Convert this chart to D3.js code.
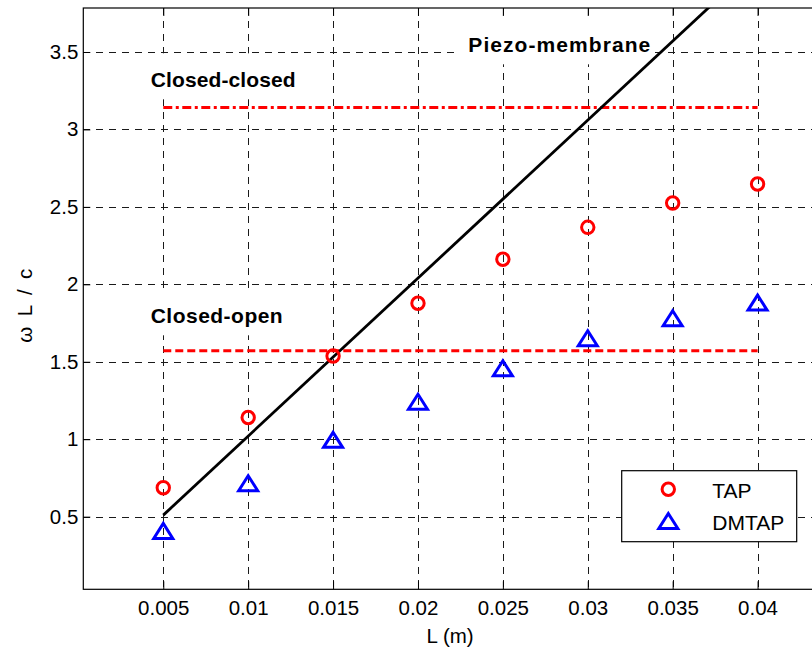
<!DOCTYPE html>
<html>
<head>
<meta charset="utf-8">
<script src="https://cdn.jsdelivr.net/npm/d3@7"></script>
<style>
  html, body { margin: 0; padding: 0; background: #fff; }
  svg { display: block; font-family: "Liberation Sans", Arial, Helvetica, sans-serif; }
</style>
</head>
<body>
<svg id="chart" width="812" height="652"></svg>
<script>
// Resonance parameter omega*L/c versus tube length L
const lengths = [0.005, 0.01, 0.015, 0.02, 0.025, 0.03, 0.035, 0.04];
const tap     = [0.687, 1.140, 1.537, 1.878, 2.162, 2.368, 2.525, 2.648];
const dmtap   = [0.408, 0.716, 0.996, 1.242, 1.458, 1.652, 1.781, 1.882];

// Piezo-membrane straight line (end points)
const piezoL = [0.005, 0.04];
const piezoV = [0.51, 4.08];

// Acoustic limits: closed-closed (pi) and closed-open (pi/2)
const limitSpan = [0.005, 0.04];
const closedClosed = Math.PI;
const closedOpen = Math.PI / 2;

const xTicks = [0.005, 0.01, 0.015, 0.02, 0.025, 0.03, 0.035, 0.04];
const yTicks = [0.5, 1, 1.5, 2, 2.5, 3, 3.5];
const xLim = [0.00029, 0.0435];
const yLim = [0.031, 3.784];

const svg = d3.select("#chart");
const box = { left: 83.3, right: 817, top: 8, bottom: 589.3 };

const x = d3.scaleLinear().domain(xLim).range([box.left, box.right]);
const y = d3.scaleLinear().domain(yLim).range([box.bottom, box.top]);

svg.append("defs").append("clipPath").attr("id", "plot-clip")
  .append("rect")
  .attr("x", box.left).attr("y", box.top)
  .attr("width", box.right - box.left).attr("height", box.bottom - box.top);

// Grid
const grid = svg.append("g").attr("stroke", "#1a1a1a").attr("stroke-width", 1)
  .attr("stroke-dasharray", "7,6").attr("shape-rendering", "crispEdges");
grid.selectAll("line.v").data(xTicks).join("line")
  .attr("x1", d => Math.round(x(d)) + 0.5).attr("x2", d => Math.round(x(d)) + 0.5)
  .attr("y1", box.top).attr("y2", box.bottom);
grid.selectAll("line.h").data(yTicks).join("line")
  .attr("y1", d => Math.round(y(d)) + 0.5).attr("y2", d => Math.round(y(d)) + 0.5)
  .attr("x1", box.left).attr("x2", box.right);

// Axes (ticks point inward)
const fmt = d => String(d);
const axisFont = "20.5px";
const gx = svg.append("g").attr("transform", `translate(0,${box.bottom})`)
  .call(d3.axisBottom(x).tickValues(xTicks).tickFormat(fmt).tickSizeInner(-8).tickSizeOuter(0).tickPadding(11));
const gxTop = svg.append("g").attr("transform", `translate(0,${box.top})`)
  .call(d3.axisTop(x).tickValues(xTicks).tickFormat("").tickSizeInner(-8).tickSizeOuter(0));
const gy = svg.append("g").attr("transform", `translate(${box.left},0)`)
  .call(d3.axisLeft(y).tickValues(yTicks).tickFormat(fmt).tickSizeInner(-7).tickSizeOuter(0).tickPadding(5));
[gx, gxTop, gy].forEach(g => {
  g.select(".domain").remove();
  g.selectAll("line").attr("stroke", "#000").attr("stroke-width", 1);
  g.selectAll("text").attr("fill", "#000").style("font-size", axisFont)
    .style("font-family", "'Liberation Sans', Arial, sans-serif");
});

// Frame
svg.append("rect")
  .attr("x", box.left).attr("y", box.top)
  .attr("width", box.right - box.left).attr("height", box.bottom - box.top)
  .attr("fill", "none").attr("stroke", "#000").attr("stroke-width", 1.2);

// Annotations with white backing, above the grid but under the data
function boxedLabel(text, lx, ly, w) {
  const g = svg.append("g");
  g.append("rect")
    .attr("x", lx - 12).attr("y", ly - 34).attr("width", w + 16).attr("height", 46)
    .attr("fill", "#fff");
  g.append("text").attr("x", lx).attr("y", ly)
    .attr("font-weight", "bold").style("font-size", "21px")
    .attr("textLength", w).attr("lengthAdjust", "spacing")
    .text(text);
}
boxedLabel("Piezo-membrane", 468.3, 52.3, 182);
boxedLabel("Closed-closed", 150.7, 87.3, 145);
boxedLabel("Closed-open", 150.7, 323.3, 132);

const plot = svg.append("g").attr("clip-path", "url(#plot-clip)");

// Limit lines
const line = d3.line().x(d => x(d[0])).y(d => y(d[1]));
plot.append("path")
  .attr("d", line(limitSpan.map(l => [l, closedClosed])))
  .attr("fill", "none").attr("stroke", "#ff0000").attr("stroke-width", 3)
  .attr("stroke-dasharray", "9,3.5,3,3.5");
plot.append("path")
  .attr("d", line(limitSpan.map(l => [l, closedOpen])))
  .attr("fill", "none").attr("stroke", "#ff0000").attr("stroke-width", 3)
  .attr("stroke-dasharray", "8,4");

// Piezo-membrane line
plot.append("path")
  .attr("d", line(piezoL.map((l, i) => [l, piezoV[i]])))
  .attr("fill", "none").attr("stroke", "#000").attr("stroke-width", 2.8);

// Markers
const triPath = "M0,-7.5L9.5,7.5L-9.5,7.5Z";
plot.selectAll("circle.tap").data(lengths).join("circle")
  .attr("cx", d => x(d)).attr("cy", (d, i) => y(tap[i])).attr("r", 6.2)
  .attr("fill", "none").attr("stroke", "#ff0000").attr("stroke-width", 3);
plot.selectAll("path.dm").data(lengths).join("path")
  .attr("transform", (d, i) => `translate(${x(d)},${y(dmtap[i])})`)
  .attr("d", triPath)
  .attr("fill", "none").attr("stroke", "#0000ff").attr("stroke-width", 3);

// Legend
const leg = svg.append("g");
leg.append("rect").attr("x", 621.7).attr("y", 470.7).attr("width", 175).attr("height", 71)
  .attr("fill", "#fff").attr("stroke", "#000").attr("stroke-width", 1.2);
leg.append("circle").attr("cx", 668.3).attr("cy", 489.3).attr("r", 6.2)
  .attr("fill", "none").attr("stroke", "#ff0000").attr("stroke-width", 3);
leg.append("path").attr("transform", "translate(668.3,521)").attr("d", triPath)
  .attr("fill", "none").attr("stroke", "#0000ff").attr("stroke-width", 3);
leg.append("text").attr("x", 712.3).attr("y", 497.5).style("font-size", "21px").text("TAP");
leg.append("text").attr("x", 712.3).attr("y", 529.8).style("font-size", "21px").text("DMTAP");

// Axis titles
svg.append("text").attr("x", (box.left + box.right) / 2).attr("y", 643)
  .attr("text-anchor", "middle").style("font-size", "20.5px").text("L (m)");
svg.append("text")
  .attr("transform", `translate(32,${(box.top + box.bottom) / 2 + 7}) rotate(-90)`)
  .attr("text-anchor", "middle").style("font-size", "20.5px")
  .attr("textLength", 74).attr("lengthAdjust", "spacing")
  .text("ω L / c");
</script>
</body>
</html>
